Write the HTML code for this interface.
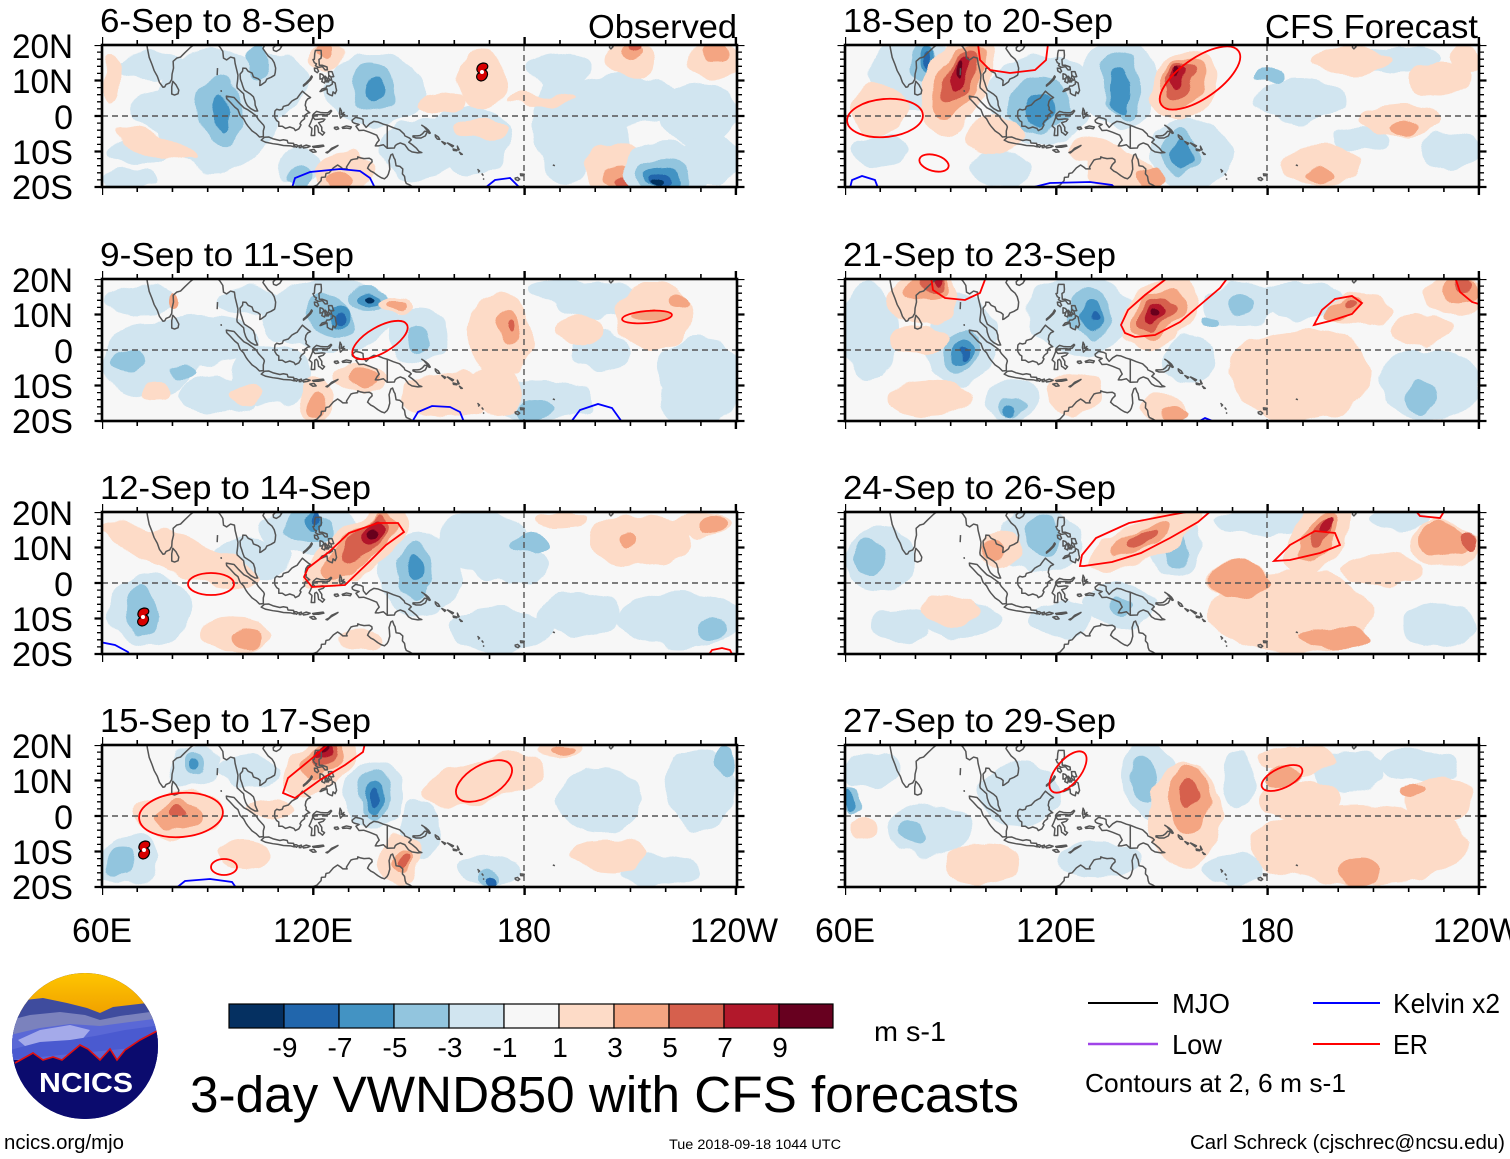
<!DOCTYPE html>
<html><head><meta charset="utf-8">
<style>
html,body{margin:0;padding:0;background:#fff;}
svg{display:block;font-family:"Liberation Sans",Arial,sans-serif;}
.b1{fill:#d1e5f0}.b2{fill:#92c5de}.b3{fill:#4393c3}.b4{fill:#2166ac}.b5{fill:#053061}
.r1{fill:#fddbc7}.r2{fill:#f4a582}.r3{fill:#d6604d}.r4{fill:#b2182b}.r5{fill:#67001f}
.er{fill:none;stroke:#f00;stroke-width:1.8}
.kv{fill:none;stroke:#00f;stroke-width:1.8}
.frame{fill:none;stroke:#000;stroke-width:2.6}
.eq{stroke:#555;stroke-width:1.4;stroke-dasharray:6 4}
.tk{stroke:#000;fill:none}
</style></head>
<body>
<svg width="1510" height="1159" viewBox="0 0 1510 1159" xmlns="http://www.w3.org/2000/svg">
<defs>
<filter id="wob" x="-10%" y="-10%" width="120%" height="120%">
<feTurbulence type="fractalNoise" baseFrequency="0.035" numOctaves="2" seed="4" result="n"/>
<feDisplacementMap in="SourceGraphic" in2="n" scale="16" xChannelSelector="R" yChannelSelector="G"/>
</filter>
<clipPath id="c1"><rect x="102" y="45" width="635" height="142"/></clipPath>
<clipPath id="c2"><rect x="845" y="45" width="634" height="142"/></clipPath>
<clipPath id="c3"><rect x="102" y="279" width="635" height="142"/></clipPath>
<clipPath id="c4"><rect x="845" y="279" width="634" height="142"/></clipPath>
<clipPath id="c5"><rect x="102" y="512" width="635" height="142"/></clipPath>
<clipPath id="c6"><rect x="845" y="512" width="634" height="142"/></clipPath>
<clipPath id="c7"><rect x="102" y="745" width="635" height="142"/></clipPath>
<clipPath id="c8"><rect x="845" y="745" width="634" height="142"/></clipPath>
<clipPath id="logoc"><circle cx="85" cy="1046" r="73"/></clipPath>
<linearGradient id="sun" x1="0" y1="0" x2="0" y2="1">
<stop offset="0" stop-color="#ffc800"/><stop offset="1" stop-color="#f0a000"/></linearGradient>
<g id="coast" fill="none" stroke="#555" stroke-width="1.5" stroke-linejoin="round">
<path vector-effect="non-scaling-stroke" d="M72.6,21 L72.9,19 73.4,16.5 74.2,14.5 74.8,12.8 75.7,11.2 76.3,9.5 77.3,8.1 77.8,8.2 78.2,8.9 79.2,9.3 79.8,10.3 79.9,11.8 80.3,13.5 80.2,15.4 81.2,16.3 82.3,16.6 83.5,17.8 85.2,19.4 86.9,20.7 87,21.5"/>
<path vector-effect="non-scaling-stroke" d="M79.8,6.2 L79.8,8.2 80.1,9.8 81,8.8 81.8,7.3 81.6,6.3 80.6,5.9 Z"/>
<path vector-effect="non-scaling-stroke" d="M91.8,22.5 L92.3,20.7 93.5,19.4 94.3,18.2 94.5,16.3 95.4,15.8 96.5,16.6 97.6,16.3 97.8,14.8 98.2,13.2 98.6,11.5 98.5,10 98.3,8.5 98.4,7.9 99.5,6.9 100.2,6.3 100.4,5 100.8,3.8 101.3,2.9 102.2,2.1 103.5,1.4 104.2,1.4 103.5,3 103.4,4.2 103,5.4 102.1,6.2 101,6.9 100.4,7.3 100,8.3 99.7,9.3 99.3,10.4 99.2,11.8 99.9,12.6 100,13.5 100.9,13.4 101.5,12.6 102.6,12.1 103,11 104.3,10.5 104.9,10 104.8,8.6 105.1,8.7 106.4,9.6 106.8,10.4 108,10.9 109,11.5 109.2,12.3 109.3,13.5 108.9,15 108.3,16 107.2,16.9 106.4,18 105.7,19 106.2,20 106.8,20.7 107.9,21.5 109.5,21.6 110.2,20.5 110.5,21.2 111.7,21.6 113.5,22.3"/>
<path vector-effect="non-scaling-stroke" d="M108.7,18.5 L109.5,18.2 110.5,18.8 111,19.6 110.2,20.1 109.2,19.8 108.6,19.2 Z"/>
<path vector-effect="non-scaling-stroke" d="M92.8,13.5 L92.7,11.5 M93.8,7.3 L93.9,6.8"/>
<path vector-effect="non-scaling-stroke" d="M95.3,5.6 L97.5,5.2 98.6,4 100.3,2.3 101.5,1.7 102.5,1 103.8,0 104.4,-1 105.9,-2.6 106.1,-3.1 105.8,-4.2 105.8,-5.8 104.7,-5.9 103.8,-5 102.6,-4.2 101.4,-2.8 100.9,-2.1 100.2,-0.8 99.2,0.2 98.6,1.8 97.7,2.5 96.4,3.9 95.4,4.9 Z"/>
<path vector-effect="non-scaling-stroke" d="M105.2,-6.8 L106.1,-6 107.3,-5.9 108.5,-6.4 110.5,-6.9 111.5,-6.7 112.6,-6.9 112.8,-7.6 114.4,-7.7 114.6,-8.7 113.5,-8.4 111.5,-8.3 110,-8 108.5,-7.8 106.5,-7.4 105.4,-6.9 Z"/>
<path vector-effect="non-scaling-stroke" d="M114.6,-8.1 L115.2,-8.1 115.7,-8.4 115.2,-8.8 114.5,-8.4 Z M116,-8.4 L116.6,-8.2 116.5,-8.9 116,-8.9Z M116.9,-8.6 L118,-8.2 119.1,-8.5 118.5,-8.8 117.2,-9Z M119.8,-8.6 L121,-8.4 122.8,-8.2 123,-8.5 121.5,-8.8 120,-8.8Z M123.6,-10.3 L124.4,-9.9 125.2,-9.1 127,-8.3 126.3,-8.8 125.1,-9.5 124,-10.4Z M119,-9.6 L120.2,-9.4 120.8,-10.1 119.9,-10.2Z"/>
<path vector-effect="non-scaling-stroke" d="M109.6,1.9 L110.4,1.7 111.2,1.9 111.5,2.7 112.9,3.1 113.9,4.2 114.6,4.6 115.4,5 116.2,6.1 116.9,7 117.6,6.4 118.6,5.6 119.2,5.2 118.4,4.8 117.9,4.1 117.7,3 118,2.3 117.9,1.8 119,0.9 118.4,0.8 117.5,0.1 117.5,-0.8 116.6,-1.5 116.2,-2.2 116.5,-2.5 115.9,-3.6 114.9,-4.1 114.5,-3.5 113.3,-3.1 112.1,-3.5 111.2,-2.9 110.2,-2.9 110.2,-1.7 109.6,-1.3 109.1,-0.5 109,0.4 109.1,1.4 Z"/>
<path vector-effect="non-scaling-stroke" d="M119.4,-5.5 L119.5,-4.6 119.6,-3.5 118.8,-2.8 119.2,-2 119.8,-0.5 119.8,0.2 120.1,0.6 120.9,1.3 122,1 123,0.9 124.1,0.9 125,1.6 125.2,1.4 124.5,0.5 123.6,0.3 122.6,0.4 121.1,0.4 120.2,0.2 120,-0.5 120.5,-1 121.5,-0.9 122.5,-0.8 123.3,-0.9 122.8,-1.5 121.5,-1.9 122.4,-3.2 122.4,-4.2 123.2,-4.7 122.6,-5.4 121.9,-4.8 121.5,-4.6 121.3,-3.2 120.9,-2.6 120.4,-2.9 120.4,-5.5 Z"/>
<path vector-effect="non-scaling-stroke" d="M120.6,18.5 L121.3,18.5 122.2,18.5 122.3,17.1 122.2,16.3 121.6,15.9 121.7,14.3 122.5,14.3 123.9,13.8 124,13 123.3,13 122.6,13.9 121.4,13.7 120.6,14.2 120.9,14.7 120.3,15 119.9,15.9 120.3,16 120.4,17.6 Z M120.3,13.5 L121.1,13.4 121.5,12.6 121.1,12.2 120.4,12.7Z M124.3,12.5 L125.3,12.5 125.8,11.1 125,11 124.4,11.5Z M124.4,11.4 L125,11 125.2,10.1 124.8,10.1 124.3,10.7Z M121.9,11.9 L122.6,11.7 123.1,11.1 122.5,10.5 121.9,10.4 121.9,11.1Z M122.8,10.9 L123.5,10.6 123.2,9.3 122.4,9.7Z M123.4,11.2 L124,10.5 123.7,9.6 123.3,10.3Z M123.8,10 L124.5,10.1 124.3,9.6 123.8,9.6Z M117.2,8.4 L118.3,9.3 119.3,10.3 119.7,11 119.5,11.3 119,10.4 118,9.4 117.2,8.7Z"/>
<path vector-effect="non-scaling-stroke" d="M121.9,6.9 L122.5,7.6 123.6,7.9 123.8,8.4 124.6,8.5 125.4,9 125.4,9.8 126.2,9.3 126.4,8.1 126.6,7.2 126.2,6.3 125.6,6.8 125.4,5.7 124.6,6 124,6.4 123.9,7.6 123.3,7.4 122.1,6.9 Z"/>
<path vector-effect="non-scaling-stroke" d="M127.6,2.2 L128,1.4 127.9,0.5 128.7,1 128.2,0.3 128.9,0.4 128.1,-0.2 127.7,-0.6 127.4,0.7 Z M128.2,-3.2 L129.4,-2.8 130.8,-3.1 130.5,-3.6 129.5,-3.4 128.4,-3.5Z M126,-3.2 L126.9,-3.1 127.2,-3.6 126.5,-3.8 126,-3.5Z"/>
<path vector-effect="non-scaling-stroke" d="M131,-1.2 L132,-0.4 133.5,-0.7 134.1,-1 134.2,-2.2 135,-3.2 136,-2.2 137.2,-1.5 138.4,-1.7 139.9,-2.3 141,-2.6 142.7,-3.3 144.5,-3.9 145.8,-5.1 146,-5.6 147.3,-6.2 147.8,-6.7 147.1,-7.4 148.1,-8.1 149.3,-9.1 150,-10 150.8,-10.3 149.7,-10.4 148,-10.1 147,-9.5 146,-8.1 144.7,-7.6 143.9,-7.9 143.3,-8.3 143,-9 141,-9.1 139.9,-8.1 138.6,-8.4 137.6,-8.4 138.1,-7.5 138.7,-6.8 138,-5.4 136,-4.6 134.3,-4 133,-4.1 132.1,-2.9 133,-2.4 131.6,-2 131.1,-1.7 Z M141,-2.6 L141,-9.1"/>
<path vector-effect="non-scaling-stroke" d="M148.3,-5.6 L149.5,-5.6 150.3,-5.5 151,-5 151.6,-4.3 152.4,-4.4 151.8,-5.6 150.6,-6.2 149.2,-6.2 148.3,-5.9 Z M150.8,-2.6 L151.9,-3.3 152.7,-4 153.2,-4.8 152.9,-4.9 152.2,-3.9 151.4,-3Z M154.6,-5.3 L155.5,-5.9 155.9,-6.6 155.2,-6.5 154.7,-5.9Z M156.5,-7.2 L157.6,-7.7 157.3,-8Z M158.1,-7.6 L159.8,-8.4 159.5,-8.7Z M159.7,-9.3 L160.6,-9.5 160.7,-9.8 159.8,-9.7Z M160.9,-8.5 L161.4,-9.5 161.1,-9.6Z M161.5,-10.2 L162.3,-10.8 161.9,-10.8Z"/>
<path vector-effect="non-scaling-stroke" d="M166.6,-15 L167.2,-15.5 166.8,-15.9 M167.8,-16.2 L168.3,-16.8 M168.2,-17.6 L168.5,-17.9 M177.3,-17.5 L178,-17.3 178.6,-17.8 178.1,-18.2 177.4,-17.9Z M178.8,-16.3 L179.9,-16.4 179.6,-16.8 178.9,-16.8Z M188,-13.8 L188.6,-14 M204.1,20.2 L205,19.7 205.1,19.5 204.5,18.9 204.1,19.3Z"/>
<path vector-effect="non-scaling-stroke" d="M113.4,-22 L114.2,-21.8 114.6,-21.6 116.7,-20.6 118.8,-20.3 121,-19.5 122.2,-18.2 122.3,-17.3 123.4,-17.2 123.6,-16.2 124.5,-16 125.7,-14.6 126.9,-13.8 127.8,-14.4 128.4,-14.9 129.6,-14.9 129.4,-14.4 130.3,-13 130.7,-12.4 131.3,-12.2 132.6,-12 132.6,-11.5 133.4,-11.8 134.4,-12 135.9,-11.9 136.6,-12.3 136.7,-12.9 136.3,-13.3 135.9,-13.7 135.4,-14.7 136.3,-15.5 137.1,-15.9 138.3,-16.8 139.3,-17.4 140.2,-17.7 140.9,-17.1 141.3,-16.4 141.7,-15 141.6,-13.4 141.5,-12.6 142,-11 142.5,-10.7 142.9,-11.8 143.2,-12.3 143.5,-14 144.6,-14.2 145.4,-14.9 145.3,-16.3 145.9,-17 146.1,-18.3 146.4,-19 147.5,-19.5 148.8,-20.4 149.4,-21.1 150,-22.1"/>
</g>
<g id="storm">
<path d="M1,-9 C7,-9 7,-4 3,-2 C8,0 5,9 -1,9 C-7,8 -6,2 -3,1 C-7,-2 -5,-8 1,-9Z" fill="#d80000" stroke="#000" stroke-width="1.2"/>
<circle r="2" fill="#fff"/>
</g>
</defs>

<rect width="1510" height="1159" fill="#fff"/>

<!-- ============ PANEL 1 ============ -->
<g clip-path="url(#c1)">
<rect x="102" y="45" width="635" height="142" fill="#f7f7f7"/>
<g filter="url(#wob)">
<ellipse class="b1" cx="215" cy="110" rx="62" ry="62"/>
<ellipse class="b1" cx="150" cy="65" rx="35" ry="14"/>
<ellipse class="b1" cx="270" cy="85" rx="38" ry="32"/>
<ellipse class="b1" cx="140" cy="150" rx="30" ry="12"/>
<ellipse class="b1" cx="160" cy="110" rx="28" ry="22"/>
<ellipse class="b1" cx="375" cy="90" rx="48" ry="36"/>
<ellipse class="b1" cx="420" cy="150" rx="40" ry="30"/>
<ellipse class="b1" cx="470" cy="140" rx="40" ry="35"/>
<ellipse class="b1" cx="565" cy="125" rx="32" ry="55"/>
<ellipse class="b1" cx="620" cy="100" rx="60" ry="25"/>
<ellipse class="b1" cx="700" cy="115" rx="40" ry="32"/>
<ellipse class="b1" cx="710" cy="160" rx="30" ry="25"/>
<ellipse class="b1" cx="600" cy="140" rx="30" ry="30"/>
<ellipse class="b1" cx="560" cy="70" rx="30" ry="18"/>
<ellipse class="b1" cx="300" cy="165" rx="22" ry="20"/>
<ellipse class="b1" cx="130" cy="178" rx="30" ry="10"/>
<ellipse class="b2" cx="220" cy="112" rx="22" ry="36" transform="rotate(-10 220 112)"/>
<ellipse class="b2" cx="258" cy="62" rx="12" ry="16"/>
<ellipse class="b2" cx="300" cy="177" rx="12" ry="12"/>
<ellipse class="b3" cx="222" cy="113" rx="8" ry="20"/>
<ellipse class="b2" cx="373" cy="88" rx="22" ry="24"/>
<ellipse class="b3" cx="375" cy="92" rx="10" ry="13"/>
<ellipse class="r1" cx="440" cy="102" rx="25" ry="12"/>
<ellipse class="r1" cx="482" cy="80" rx="25" ry="28"/>
<ellipse class="r1" cx="540" cy="100" rx="35" ry="6"/>
<ellipse class="r1" cx="480" cy="130" rx="25" ry="10"/>
<ellipse class="r1" cx="615" cy="168" rx="32" ry="26"/>
<ellipse class="r1" cx="345" cy="172" rx="30" ry="20"/>
<ellipse class="r1" cx="155" cy="145" rx="45" ry="10" transform="rotate(20 155 145)"/>
<ellipse class="r1" cx="112" cy="80" rx="10" ry="25"/>
<ellipse class="r1" cx="325" cy="58" rx="18" ry="13"/>
<ellipse class="r1" cx="630" cy="60" rx="25" ry="18"/>
<ellipse class="r1" cx="715" cy="60" rx="28" ry="18"/>
<ellipse class="r2" cx="620" cy="178" rx="18" ry="12"/>
<ellipse class="r2" cx="325" cy="52" rx="8" ry="8"/>
<ellipse class="r2" cx="340" cy="180" rx="12" ry="8"/>
<ellipse class="r2" cx="632" cy="52" rx="10" ry="8"/>
<ellipse class="r2" cx="715" cy="52" rx="14" ry="8"/>
<ellipse class="r3" cx="622" cy="183" rx="8" ry="6"/>
<ellipse class="r3" cx="636" cy="47" rx="5" ry="5"/>
<ellipse class="b1" cx="665" cy="172" rx="42" ry="30"/>
<ellipse class="b2" cx="663" cy="176" rx="26" ry="18"/>
<ellipse class="b3" cx="662" cy="179" rx="17" ry="12"/>
<ellipse class="b4" cx="660" cy="182" rx="10" ry="8"/>
<ellipse class="b5" cx="657" cy="185" rx="5" ry="4"/>
</g>
<use href="#coast" transform="translate(102,45) scale(3.522,-3.55) translate(-60,-20)"/>
<line class="eq" x1="102" y1="116" x2="737" y2="116"/>
<line class="eq" x1="524" y1="45" x2="524" y2="187"/>
<path class="kv" d="M292,188 L295,178 310,172 340,169 360,171 370,178 375,188"/>
<path class="kv" d="M485,188 L495,180 510,178 520,188"/>
<use href="#storm" x="482" y="72"/>
</g>

<!-- ============ PANEL 2 ============ -->
<g clip-path="url(#c2)">
<rect x="845" y="45" width="634" height="142" fill="#f7f7f7"/>
<g filter="url(#wob)">
<ellipse class="b1" cx="915" cy="75" rx="45" ry="35"/>
<ellipse class="b1" cx="1040" cy="100" rx="55" ry="45"/>
<ellipse class="b1" cx="1120" cy="85" rx="40" ry="45" transform="rotate(-15 1120 85)"/>
<ellipse class="b1" cx="1190" cy="155" rx="42" ry="36"/>
<ellipse class="b1" cx="1000" cy="170" rx="30" ry="18"/>
<ellipse class="b1" cx="1300" cy="100" rx="45" ry="22"/>
<ellipse class="b1" cx="1400" cy="60" rx="40" ry="15"/>
<ellipse class="b1" cx="1450" cy="150" rx="30" ry="20"/>
<ellipse class="b1" cx="880" cy="150" rx="30" ry="15"/>
<ellipse class="b1" cx="1360" cy="140" rx="30" ry="12"/>
<ellipse class="b2" cx="925" cy="65" rx="15" ry="18"/>
<ellipse class="b2" cx="1040" cy="105" rx="30" ry="28"/>
<ellipse class="b2" cx="1122" cy="85" rx="18" ry="35" transform="rotate(-10 1122 85)"/>
<ellipse class="b2" cx="1180" cy="153" rx="18" ry="22"/>
<ellipse class="b2" cx="1270" cy="75" rx="15" ry="8"/>
<ellipse class="b3" cx="930" cy="62" rx="8" ry="12"/>
<ellipse class="b3" cx="1040" cy="110" rx="15" ry="18"/>
<ellipse class="b3" cx="1120" cy="90" rx="10" ry="22"/>
<ellipse class="b3" cx="1182" cy="155" rx="10" ry="13"/>
<ellipse class="b4" cx="930" cy="62" rx="4" ry="7"/>
<ellipse class="r1" cx="880" cy="110" rx="30" ry="25"/>
<ellipse class="r1" cx="995" cy="135" rx="30" ry="20"/>
<ellipse class="r1" cx="1120" cy="170" rx="38" ry="22" transform="rotate(30 1120 170)"/>
<ellipse class="r1" cx="1090" cy="150" rx="25" ry="12"/>
<ellipse class="r1" cx="1320" cy="165" rx="40" ry="20"/>
<ellipse class="r1" cx="1400" cy="120" rx="40" ry="15"/>
<ellipse class="r1" cx="1440" cy="80" rx="30" ry="15"/>
<ellipse class="r1" cx="1350" cy="60" rx="40" ry="12"/>
<ellipse class="r1" cx="1465" cy="60" rx="15" ry="15"/>
<ellipse class="r2" cx="1150" cy="178" rx="12" ry="10"/>
<ellipse class="r2" cx="1405" cy="125" rx="15" ry="8"/>
<ellipse class="r2" cx="1320" cy="175" rx="12" ry="7"/>
<ellipse class="r1" cx="955" cy="85" rx="30" ry="52" transform="rotate(30 955 85)"/>
<ellipse class="r2" cx="957" cy="82" rx="20" ry="40" transform="rotate(30 957 82)"/>
<ellipse class="r3" cx="959" cy="78" rx="13" ry="29" transform="rotate(30 959 78)"/>
<ellipse class="r4" cx="960" cy="74" rx="8" ry="19" transform="rotate(30 960 74)"/>
<ellipse class="r5" cx="961" cy="70" rx="4" ry="8"/>
<ellipse class="r1" cx="1185" cy="85" rx="30" ry="38" transform="rotate(35 1185 85)"/>
<ellipse class="r2" cx="1183" cy="83" rx="20" ry="28" transform="rotate(35 1183 83)"/>
<ellipse class="r3" cx="1181" cy="80" rx="13" ry="19" transform="rotate(35 1181 80)"/>
<ellipse class="r4" cx="1180" cy="77" rx="7" ry="12" transform="rotate(35 1180 77)"/>
<ellipse class="r5" cx="1179" cy="74" rx="3" ry="5"/>
</g>
<use href="#coast" transform="translate(845,45) scale(3.522,-3.55) translate(-60,-20)"/>
<line class="eq" x1="845" y1="116" x2="1479" y2="116"/>
<line class="eq" x1="1267" y1="45" x2="1267" y2="187"/>
<ellipse class="er" cx="885" cy="118" rx="38" ry="19" transform="rotate(-5 885 118)"/>
<ellipse class="er" cx="1200" cy="78" rx="47" ry="20" transform="rotate(-35 1200 78)"/>
<path class="er" d="M978,44 L980,60 990,70 1010,73 1035,70 1046,60 1048,44"/>
<ellipse class="er" cx="934" cy="163" rx="15" ry="8" transform="rotate(15 934 163)"/>
<path class="kv" d="M850,188 L852,180 862,176 875,180 878,188"/>
<path class="kv" d="M1030,188 L1050,183 1090,182 1112,185 1115,188"/>
</g>

<!-- ============ PANEL 3 ============ -->
<g clip-path="url(#c3)">
<rect x="102" y="279" width="635" height="142" fill="#f7f7f7"/>
<g filter="url(#wob)">
<ellipse class="b1" cx="330" cy="315" rx="68" ry="36"/>
<ellipse class="b1" cx="150" cy="360" rx="48" ry="36"/>
<ellipse class="b1" cx="200" cy="340" rx="60" ry="25"/>
<ellipse class="b1" cx="270" cy="375" rx="40" ry="30"/>
<ellipse class="b1" cx="140" cy="300" rx="35" ry="15"/>
<ellipse class="b1" cx="220" cy="395" rx="40" ry="20"/>
<ellipse class="b1" cx="420" cy="335" rx="30" ry="28"/>
<ellipse class="b1" cx="540" cy="400" rx="52" ry="22"/>
<ellipse class="b1" cx="700" cy="370" rx="42" ry="32"/>
<ellipse class="b1" cx="700" cy="400" rx="40" ry="25"/>
<ellipse class="b1" cx="600" cy="350" rx="28" ry="22"/>
<ellipse class="b1" cx="600" cy="300" rx="45" ry="18"/>
<ellipse class="b1" cx="250" cy="300" rx="30" ry="15"/>
<ellipse class="b1" cx="560" cy="290" rx="30" ry="12"/>
<ellipse class="b2" cx="368" cy="298" rx="18" ry="13"/>
<ellipse class="b2" cx="330" cy="315" rx="26" ry="18" transform="rotate(30 330 315)"/>
<ellipse class="b2" cx="128" cy="358" rx="17" ry="12"/>
<ellipse class="b2" cx="183" cy="373" rx="14" ry="6"/>
<ellipse class="b2" cx="535" cy="410" rx="22" ry="10"/>
<ellipse class="b2" cx="420" cy="340" rx="10" ry="14"/>
<ellipse class="b3" cx="369" cy="299" rx="9" ry="8"/>
<ellipse class="b3" cx="340" cy="316" rx="12" ry="10"/>
<ellipse class="b4" cx="341" cy="318" rx="6" ry="5"/>
<ellipse class="b5" cx="370" cy="298" rx="4" ry="4"/>
<ellipse class="r1" cx="500" cy="335" rx="33" ry="42"/>
<ellipse class="r1" cx="495" cy="390" rx="25" ry="25"/>
<ellipse class="r1" cx="655" cy="315" rx="38" ry="34"/>
<ellipse class="r1" cx="155" cy="392" rx="15" ry="10"/>
<ellipse class="r1" cx="316" cy="400" rx="18" ry="22"/>
<ellipse class="r1" cx="445" cy="395" rx="45" ry="24"/>
<ellipse class="r1" cx="395" cy="305" rx="20" ry="10"/>
<ellipse class="r1" cx="245" cy="395" rx="15" ry="10"/>
<ellipse class="r1" cx="580" cy="330" rx="25" ry="15"/>
<ellipse class="r1" cx="360" cy="378" rx="25" ry="15"/>
<ellipse class="r2" cx="508" cy="328" rx="12" ry="18"/>
<ellipse class="r2" cx="650" cy="316" rx="20" ry="7"/>
<ellipse class="r2" cx="678" cy="300" rx="10" ry="7"/>
<ellipse class="r2" cx="396" cy="305" rx="13" ry="6"/>
<ellipse class="r2" cx="363" cy="378" rx="15" ry="10"/>
<ellipse class="r2" cx="316" cy="405" rx="10" ry="12"/>
<ellipse class="r2" cx="173" cy="302" rx="5" ry="8"/>
<ellipse class="r3" cx="510" cy="326" rx="4" ry="6"/>
</g>
<use href="#coast" transform="translate(102,279) scale(3.522,-3.55) translate(-60,-20)"/>
<line class="eq" x1="102" y1="350" x2="737" y2="350"/>
<line class="eq" x1="524" y1="279" x2="524" y2="421"/>
<ellipse class="er" cx="380" cy="340" rx="31" ry="13" transform="rotate(-30 380 340)"/>
<ellipse class="er" cx="647" cy="317" rx="25" ry="6" transform="rotate(-5 647 317)"/>
<path class="kv" d="M412,422 L418,412 432,406 450,407 460,412 464,422"/>
<path class="kv" d="M571,422 L580,410 598,404 612,408 622,422"/>
</g>

<!-- ============ PANEL 4 ============ -->
<g clip-path="url(#c4)">
<rect x="845" y="279" width="634" height="142" fill="#f7f7f7"/>
<g filter="url(#wob)">
<ellipse class="b1" cx="870" cy="330" rx="30" ry="48"/>
<ellipse class="b1" cx="960" cy="340" rx="36" ry="46"/>
<ellipse class="b1" cx="1080" cy="315" rx="52" ry="40"/>
<ellipse class="b1" cx="1240" cy="305" rx="36" ry="22"/>
<ellipse class="b1" cx="1430" cy="385" rx="52" ry="36"/>
<ellipse class="b1" cx="1300" cy="300" rx="45" ry="18"/>
<ellipse class="b1" cx="1010" cy="400" rx="28" ry="20"/>
<ellipse class="b1" cx="1190" cy="360" rx="25" ry="25"/>
<ellipse class="b2" cx="961" cy="350" rx="16" ry="24" transform="rotate(20 961 350)"/>
<ellipse class="b2" cx="1090" cy="312" rx="20" ry="26"/>
<ellipse class="b2" cx="1240" cy="305" rx="13" ry="10"/>
<ellipse class="b2" cx="1210" cy="320" rx="8" ry="6"/>
<ellipse class="b2" cx="1420" cy="398" rx="14" ry="16"/>
<ellipse class="b2" cx="1012" cy="406" rx="14" ry="10"/>
<ellipse class="b3" cx="962" cy="352" rx="9" ry="14" transform="rotate(20 962 352)"/>
<ellipse class="b3" cx="1092" cy="315" rx="10" ry="16"/>
<ellipse class="b3" cx="1012" cy="410" rx="7" ry="6"/>
<ellipse class="b4" cx="962" cy="354" rx="4" ry="7"/>
<ellipse class="b4" cx="1094" cy="320" rx="4" ry="5"/>
<ellipse class="r1" cx="1300" cy="375" rx="72" ry="46"/>
<ellipse class="r1" cx="1360" cy="310" rx="32" ry="17"/>
<ellipse class="r1" cx="1455" cy="295" rx="30" ry="20"/>
<ellipse class="r1" cx="930" cy="398" rx="42" ry="18"/>
<ellipse class="r1" cx="1075" cy="395" rx="28" ry="22"/>
<ellipse class="r1" cx="1165" cy="408" rx="25" ry="12"/>
<ellipse class="r1" cx="1420" cy="330" rx="30" ry="15"/>
<ellipse class="r1" cx="925" cy="300" rx="35" ry="26"/>
<ellipse class="r1" cx="920" cy="340" rx="30" ry="12"/>
<ellipse class="r2" cx="928" cy="288" rx="22" ry="12"/>
<ellipse class="r3" cx="932" cy="284" rx="14" ry="8"/>
<ellipse class="r4" cx="937" cy="281" rx="7" ry="5"/>
<ellipse class="r2" cx="1345" cy="309" rx="22" ry="10" transform="rotate(-20 1345 309)"/>
<ellipse class="r2" cx="1460" cy="290" rx="20" ry="12"/>
<ellipse class="r2" cx="1175" cy="412" rx="16" ry="8"/>
<ellipse class="r3" cx="1352" cy="305" rx="8" ry="5"/>
<ellipse class="r3" cx="1465" cy="286" rx="10" ry="6"/>
<ellipse class="r1" cx="1160" cy="312" rx="44" ry="30" transform="rotate(-37 1160 312)"/>
<ellipse class="r2" cx="1158" cy="313" rx="31" ry="20" transform="rotate(-37 1158 313)"/>
<ellipse class="r3" cx="1157" cy="313" rx="21" ry="13" transform="rotate(-37 1157 313)"/>
<ellipse class="r4" cx="1157" cy="313" rx="12" ry="8" transform="rotate(-37 1157 313)"/>
<ellipse class="r5" cx="1157" cy="313" rx="5" ry="4"/>
</g>
<use href="#coast" transform="translate(845,279) scale(3.522,-3.55) translate(-60,-20)"/>
<line class="eq" x1="845" y1="350" x2="1479" y2="350"/>
<line class="eq" x1="1267" y1="279" x2="1267" y2="421"/>
<path class="er" d="M931,277 L933,290 945,298 965,300 980,293 986,277"/>
<path class="er" d="M1121,325 L1125,333 1135,337 1155,335 1180,322 1200,305 1220,288 1229,276 L1170,276 1145,295 1128,310 Z"/>
<path class="er" d="M1314,325 L1330,321 1352,314 1362,303 1352,296 1335,299 1322,310 Z"/>
<path class="er" d="M1455,277 L1460,292 1472,302 1482,305"/>
<path class="kv" d="M1198,422 L1205,418 1215,422"/>
</g>

<!-- ============ PANEL 5 ============ -->
<g clip-path="url(#c5)">
<rect x="102" y="512" width="635" height="142" fill="#f7f7f7"/>
<g filter="url(#wob)">
<ellipse class="b1" cx="310" cy="530" rx="48" ry="26"/>
<ellipse class="b1" cx="420" cy="575" rx="42" ry="42"/>
<ellipse class="b1" cx="480" cy="540" rx="45" ry="30"/>
<ellipse class="b1" cx="150" cy="610" rx="42" ry="36"/>
<ellipse class="b1" cx="510" cy="565" rx="40" ry="18"/>
<ellipse class="b1" cx="580" cy="615" rx="40" ry="22"/>
<ellipse class="b1" cx="680" cy="620" rx="62" ry="28"/>
<ellipse class="b1" cx="250" cy="560" rx="40" ry="22"/>
<ellipse class="b1" cx="500" cy="630" rx="52" ry="22"/>
<ellipse class="b2" cx="310" cy="527" rx="25" ry="15"/>
<ellipse class="b2" cx="415" cy="572" rx="18" ry="28"/>
<ellipse class="b2" cx="142" cy="612" rx="16" ry="25"/>
<ellipse class="b2" cx="530" cy="545" rx="20" ry="10"/>
<ellipse class="b2" cx="713" cy="630" rx="14" ry="10"/>
<ellipse class="b3" cx="315" cy="520" rx="10" ry="8"/>
<ellipse class="b3" cx="414" cy="570" rx="9" ry="14"/>
<ellipse class="b4" cx="318" cy="517" rx="5" ry="5"/>
<ellipse class="r1" cx="180" cy="555" rx="82" ry="18" transform="rotate(20 180 555)"/>
<ellipse class="r1" cx="235" cy="635" rx="36" ry="17"/>
<ellipse class="r1" cx="640" cy="540" rx="50" ry="26"/>
<ellipse class="r1" cx="700" cy="525" rx="30" ry="12"/>
<ellipse class="r1" cx="360" cy="640" rx="20" ry="12"/>
<ellipse class="r1" cx="560" cy="520" rx="25" ry="8"/>
<ellipse class="r2" cx="249" cy="638" rx="15" ry="10"/>
<ellipse class="r2" cx="628" cy="540" rx="10" ry="8"/>
<ellipse class="r2" cx="713" cy="525" rx="12" ry="9"/>
<ellipse class="r1" cx="355" cy="550" rx="62" ry="26" transform="rotate(-35 355 550)"/>
<ellipse class="r2" cx="358" cy="548" rx="46" ry="18" transform="rotate(-40 358 548)"/>
<ellipse class="r3" cx="365" cy="540" rx="29" ry="13" transform="rotate(-45 365 540)"/>
<ellipse class="r4" cx="371" cy="533" rx="15" ry="10" transform="rotate(-45 371 533)"/>
<ellipse class="r5" cx="372" cy="532" rx="7" ry="6"/>
</g>
<use href="#coast" transform="translate(102,512) scale(3.522,-3.55) translate(-60,-20)"/>
<line class="eq" x1="102" y1="583" x2="737" y2="583"/>
<line class="eq" x1="524" y1="512" x2="524" y2="654"/>
<path class="er" d="M304,577 L312,587 345,585 369,562 386,545 404,532 398,523 378,523 349,533 329,552 308,568 Z"/>
<ellipse class="er" cx="211" cy="584" rx="23" ry="11"/>
<path class="er" d="M708,656 L712,650 722,648 730,650 733,656"/>
<path class="kv" d="M100,642 L115,645 128,652 130,656"/>
<use href="#storm" x="143" y="617"/>
</g>

<!-- ============ PANEL 6 ============ -->
<g clip-path="url(#c6)">
<rect x="845" y="512" width="634" height="142" fill="#f7f7f7"/>
<g filter="url(#wob)">
<ellipse class="b1" cx="880" cy="560" rx="36" ry="32"/>
<ellipse class="b1" cx="1040" cy="540" rx="42" ry="32"/>
<ellipse class="b1" cx="1175" cy="545" rx="26" ry="32"/>
<ellipse class="b1" cx="1270" cy="522" rx="55" ry="12"/>
<ellipse class="b1" cx="1400" cy="520" rx="30" ry="10"/>
<ellipse class="b1" cx="960" cy="620" rx="40" ry="20"/>
<ellipse class="b1" cx="1120" cy="605" rx="38" ry="22"/>
<ellipse class="b1" cx="1440" cy="625" rx="36" ry="22"/>
<ellipse class="b1" cx="900" cy="625" rx="30" ry="18"/>
<ellipse class="b1" cx="1060" cy="620" rx="30" ry="18"/>
<ellipse class="b2" cx="868" cy="557" rx="16" ry="17"/>
<ellipse class="b2" cx="1043" cy="535" rx="18" ry="20"/>
<ellipse class="b2" cx="1178" cy="550" rx="13" ry="18"/>
<ellipse class="b2" cx="1287" cy="605" rx="10" ry="6"/>
<ellipse class="b2" cx="1120" cy="605" rx="12" ry="8"/>
<ellipse class="r1" cx="1290" cy="612" rx="82" ry="42"/>
<ellipse class="r1" cx="1445" cy="545" rx="35" ry="25"/>
<ellipse class="r1" cx="1000" cy="550" rx="20" ry="18"/>
<ellipse class="r1" cx="950" cy="610" rx="30" ry="15"/>
<ellipse class="r1" cx="1240" cy="580" rx="32" ry="18"/>
<ellipse class="r1" cx="1380" cy="570" rx="40" ry="15"/>
<ellipse class="r1" cx="1145" cy="540" rx="62" ry="20" transform="rotate(-25 1145 540)"/>
<ellipse class="r1" cx="1318" cy="538" rx="42" ry="25" transform="rotate(-55 1318 538)"/>
<ellipse class="r2" cx="1240" cy="580" rx="30" ry="18"/>
<ellipse class="r2" cx="1140" cy="540" rx="32" ry="12" transform="rotate(-25 1140 540)"/>
<ellipse class="r2" cx="1320" cy="535" rx="27" ry="14" transform="rotate(-60 1320 535)"/>
<ellipse class="r2" cx="1445" cy="540" rx="25" ry="18"/>
<ellipse class="r2" cx="1335" cy="637" rx="35" ry="10"/>
<ellipse class="r2" cx="993" cy="550" rx="12" ry="10"/>
<ellipse class="r3" cx="1140" cy="538" rx="18" ry="8" transform="rotate(-25 1140 538)"/>
<ellipse class="r3" cx="1322" cy="532" rx="17" ry="8" transform="rotate(-60 1322 532)"/>
<ellipse class="r3" cx="1470" cy="540" rx="8" ry="10"/>
<ellipse class="r4" cx="1327" cy="525" rx="10" ry="5" transform="rotate(-60 1327 525)"/>
</g>
<use href="#coast" transform="translate(845,512) scale(3.522,-3.55) translate(-60,-20)"/>
<line class="eq" x1="845" y1="583" x2="1479" y2="583"/>
<line class="eq" x1="1267" y1="512" x2="1267" y2="654"/>
<path class="er" d="M1080,566 L1082,555 1096,538 1129,523 1170,515 1198,510 L1212,510 1198,522 1170,538 1141,553 1112,562 1084,566 Z"/>
<path class="er" d="M1274,561 L1290,545 1315,531 1335,533 1340,545 1320,553 1290,560 Z"/>
<path class="er" d="M1415,510 L1420,516 1440,518 1445,510"/>
</g>

<!-- ============ PANEL 7 ============ -->
<g clip-path="url(#c7)">
<rect x="102" y="745" width="635" height="142" fill="#f7f7f7"/>
<g filter="url(#wob)">
<ellipse class="b1" cx="195" cy="765" rx="26" ry="22"/>
<ellipse class="b1" cx="375" cy="795" rx="30" ry="34"/>
<ellipse class="b1" cx="130" cy="860" rx="32" ry="26"/>
<ellipse class="b1" cx="490" cy="870" rx="32" ry="16"/>
<ellipse class="b1" cx="600" cy="800" rx="42" ry="32"/>
<ellipse class="b1" cx="700" cy="790" rx="32" ry="42"/>
<ellipse class="b1" cx="250" cy="770" rx="30" ry="15"/>
<ellipse class="b1" cx="420" cy="830" rx="20" ry="30"/>
<ellipse class="b1" cx="660" cy="870" rx="40" ry="15"/>
<ellipse class="b2" cx="193" cy="762" rx="12" ry="14"/>
<ellipse class="b2" cx="375" cy="795" rx="16" ry="25"/>
<ellipse class="b2" cx="120" cy="862" rx="14" ry="15"/>
<ellipse class="b2" cx="490" cy="878" rx="12" ry="9"/>
<ellipse class="b2" cx="725" cy="760" rx="10" ry="14"/>
<ellipse class="b3" cx="375" cy="797" rx="10" ry="18"/>
<ellipse class="b3" cx="193" cy="763" rx="6" ry="8"/>
<ellipse class="b4" cx="375" cy="797" rx="5" ry="11"/>
<ellipse class="b4" cx="493" cy="881" rx="6" ry="6"/>
<ellipse class="r1" cx="320" cy="765" rx="42" ry="24" transform="rotate(-35 320 765)"/>
<ellipse class="r1" cx="180" cy="815" rx="44" ry="24"/>
<ellipse class="r1" cx="485" cy="780" rx="62" ry="22" transform="rotate(-15 485 780)"/>
<ellipse class="r1" cx="400" cy="860" rx="20" ry="26"/>
<ellipse class="r1" cx="610" cy="855" rx="40" ry="15"/>
<ellipse class="r1" cx="245" cy="855" rx="25" ry="15"/>
<ellipse class="r1" cx="560" cy="750" rx="20" ry="8"/>
<ellipse class="r1" cx="270" cy="810" rx="25" ry="10"/>
<ellipse class="r2" cx="322" cy="760" rx="25" ry="14" transform="rotate(-45 322 760)"/>
<ellipse class="r2" cx="178" cy="815" rx="22" ry="15"/>
<ellipse class="r2" cx="403" cy="862" rx="10" ry="10"/>
<ellipse class="r2" cx="565" cy="750" rx="10" ry="5"/>
<ellipse class="r3" cx="326" cy="755" rx="14" ry="8" transform="rotate(-50 326 755)"/>
<ellipse class="r3" cx="175" cy="812" rx="9" ry="7"/>
<ellipse class="r3" cx="405" cy="862" rx="5" ry="6"/>
<ellipse class="r4" cx="325" cy="752" rx="8" ry="6"/>
<ellipse class="r5" cx="325" cy="749" rx="4" ry="4"/>
</g>
<use href="#coast" transform="translate(102,745) scale(3.522,-3.55) translate(-60,-20)"/>
<line class="eq" x1="102" y1="816" x2="737" y2="816"/>
<line class="eq" x1="524" y1="745" x2="524" y2="887"/>
<ellipse class="er" cx="181" cy="815" rx="42" ry="22" transform="rotate(-5 181 815)"/>
<ellipse class="er" cx="224" cy="867" rx="13" ry="8"/>
<ellipse class="er" cx="484" cy="781" rx="31" ry="16" transform="rotate(-30 484 781)"/>
<path class="er" d="M283,793 L295,798 320,780 345,765 363,752 365,743 L330,743 310,760 288,778 Z"/>
<path class="kv" d="M175,889 L185,881 210,879 232,882 237,889"/>
<use href="#storm" x="144" y="850"/>
</g>

<!-- ============ PANEL 8 ============ -->
<g clip-path="url(#c8)">
<rect x="845" y="745" width="634" height="142" fill="#f7f7f7"/>
<g filter="url(#wob)">
<ellipse class="b1" cx="1150" cy="780" rx="26" ry="40"/>
<ellipse class="b1" cx="930" cy="830" rx="42" ry="26"/>
<ellipse class="b1" cx="870" cy="770" rx="30" ry="20"/>
<ellipse class="b1" cx="1020" cy="795" rx="42" ry="32"/>
<ellipse class="b1" cx="1420" cy="765" rx="40" ry="15"/>
<ellipse class="b1" cx="1100" cy="860" rx="42" ry="20"/>
<ellipse class="b1" cx="1235" cy="870" rx="32" ry="16"/>
<ellipse class="b1" cx="1238" cy="780" rx="16" ry="30"/>
<ellipse class="b1" cx="1350" cy="772" rx="36" ry="22"/>
<ellipse class="b2" cx="1145" cy="780" rx="12" ry="22"/>
<ellipse class="b2" cx="913" cy="832" rx="14" ry="10"/>
<ellipse class="b2" cx="850" cy="800" rx="10" ry="12"/>
<ellipse class="b3" cx="848" cy="800" rx="5" ry="10"/>
<ellipse class="r1" cx="1185" cy="815" rx="36" ry="52"/>
<ellipse class="r1" cx="1360" cy="845" rx="110" ry="40"/>
<ellipse class="r1" cx="1300" cy="800" rx="40" ry="20"/>
<ellipse class="r1" cx="1300" cy="760" rx="40" ry="14"/>
<ellipse class="r1" cx="1440" cy="800" rx="35" ry="25"/>
<ellipse class="r1" cx="980" cy="865" rx="36" ry="20"/>
<ellipse class="r1" cx="862" cy="828" rx="14" ry="12"/>
<ellipse class="r2" cx="1189" cy="800" rx="21" ry="34"/>
<ellipse class="r2" cx="1282" cy="778" rx="18" ry="9" transform="rotate(-20 1282 778)"/>
<ellipse class="r2" cx="1360" cy="872" rx="22" ry="14"/>
<ellipse class="r2" cx="1412" cy="791" rx="12" ry="6"/>
<ellipse class="r3" cx="1190" cy="794" rx="10" ry="14"/>
</g>
<use href="#coast" transform="translate(845,745) scale(3.522,-3.55) translate(-60,-20)"/>
<line class="eq" x1="845" y1="816" x2="1479" y2="816"/>
<line class="eq" x1="1267" y1="745" x2="1267" y2="887"/>
<ellipse class="er" cx="1068" cy="772" rx="25" ry="12" transform="rotate(-50 1068 772)"/>
<ellipse class="er" cx="1282" cy="778" rx="22" ry="10" transform="rotate(-25 1282 778)"/>
</g>

<!-- ============ FRAMES & TICKS ============ -->
<g id="frames">
<rect class="frame" x="102" y="45" width="635" height="142"/>
<rect class="frame" x="845" y="45" width="634" height="142"/>
<rect class="frame" x="102" y="279" width="635" height="142"/>
<rect class="frame" x="845" y="279" width="634" height="142"/>
<rect class="frame" x="102" y="512" width="635" height="142"/>
<rect class="frame" x="845" y="512" width="634" height="142"/>
<rect class="frame" x="102" y="745" width="635" height="142"/>
<rect class="frame" x="845" y="745" width="634" height="142"/>
</g>
<g class="tk" stroke-width="4">
<g stroke-dasharray="1.6 33.63" stroke-dashoffset="0.8">
<line x1="102" y1="42" x2="738" y2="42"/><line x1="102" y1="190" x2="738" y2="190"/>
<line x1="845" y1="42" x2="1480" y2="42"/><line x1="845" y1="190" x2="1480" y2="190"/>
<line x1="102" y1="276" x2="738" y2="276"/><line x1="102" y1="424" x2="738" y2="424"/>
<line x1="845" y1="276" x2="1480" y2="276"/><line x1="845" y1="424" x2="1480" y2="424"/>
<line x1="102" y1="509" x2="738" y2="509"/><line x1="102" y1="657" x2="738" y2="657"/>
<line x1="845" y1="509" x2="1480" y2="509"/><line x1="845" y1="657" x2="1480" y2="657"/>
<line x1="102" y1="742" x2="738" y2="742"/><line x1="102" y1="890" x2="738" y2="890"/>
<line x1="845" y1="742" x2="1480" y2="742"/><line x1="845" y1="890" x2="1480" y2="890"/>
</g>
</g>
<g class="tk" stroke-width="8">
<g stroke-dasharray="2.4 208.9" stroke-dashoffset="1.2">
<line x1="102" y1="41" x2="740" y2="41"/><line x1="102" y1="191" x2="740" y2="191"/>
<line x1="845" y1="41" x2="1482" y2="41"/><line x1="845" y1="191" x2="1482" y2="191"/>
<line x1="102" y1="275" x2="740" y2="275"/><line x1="102" y1="425" x2="740" y2="425"/>
<line x1="845" y1="275" x2="1482" y2="275"/><line x1="845" y1="425" x2="1482" y2="425"/>
<line x1="102" y1="508" x2="740" y2="508"/><line x1="102" y1="658" x2="740" y2="658"/>
<line x1="845" y1="508" x2="1482" y2="508"/><line x1="845" y1="658" x2="1482" y2="658"/>
<line x1="102" y1="741" x2="740" y2="741"/><line x1="102" y1="891" x2="740" y2="891"/>
<line x1="845" y1="741" x2="1482" y2="741"/><line x1="845" y1="891" x2="1482" y2="891"/>
</g>
</g>
<g class="tk" stroke-width="4">
<g stroke-dasharray="1.3 5.8" stroke-dashoffset="0.65">
<line x1="99" y1="45" x2="99" y2="188"/><line x1="740" y1="45" x2="740" y2="188"/>
<line x1="842" y1="45" x2="842" y2="188"/><line x1="1482" y1="45" x2="1482" y2="188"/>
<line x1="99" y1="279" x2="99" y2="422"/><line x1="740" y1="279" x2="740" y2="422"/>
<line x1="842" y1="279" x2="842" y2="422"/><line x1="1482" y1="279" x2="1482" y2="422"/>
<line x1="99" y1="512" x2="99" y2="655"/><line x1="740" y1="512" x2="740" y2="655"/>
<line x1="842" y1="512" x2="842" y2="655"/><line x1="1482" y1="512" x2="1482" y2="655"/>
<line x1="99" y1="745" x2="99" y2="888"/><line x1="740" y1="745" x2="740" y2="888"/>
<line x1="842" y1="745" x2="842" y2="888"/><line x1="1482" y1="745" x2="1482" y2="888"/>
</g>
</g>
<g class="tk" stroke-width="7">
<g stroke-dasharray="2.2 33.3" stroke-dashoffset="1.1">
<line x1="98" y1="45" x2="98" y2="189"/><line x1="741" y1="45" x2="741" y2="189"/>
<line x1="841" y1="45" x2="841" y2="189"/><line x1="1483" y1="45" x2="1483" y2="189"/>
<line x1="98" y1="279" x2="98" y2="423"/><line x1="741" y1="279" x2="741" y2="423"/>
<line x1="841" y1="279" x2="841" y2="423"/><line x1="1483" y1="279" x2="1483" y2="423"/>
<line x1="98" y1="512" x2="98" y2="656"/><line x1="741" y1="512" x2="741" y2="656"/>
<line x1="841" y1="512" x2="841" y2="656"/><line x1="1483" y1="512" x2="1483" y2="656"/>
<line x1="98" y1="745" x2="98" y2="889"/><line x1="741" y1="745" x2="741" y2="889"/>
<line x1="841" y1="745" x2="841" y2="889"/><line x1="1483" y1="745" x2="1483" y2="889"/>
</g>
</g>

<!-- ============ TITLES ============ -->
<g font-size="33" fill="#000">
<text x="100" y="32" textLength="235" lengthAdjust="spacingAndGlyphs">6-Sep to 8-Sep</text>
<text x="588" y="38" textLength="149" lengthAdjust="spacingAndGlyphs">Observed</text>
<text x="843" y="32" textLength="270" lengthAdjust="spacingAndGlyphs">18-Sep to 20-Sep</text>
<text x="1265" y="38" textLength="213" lengthAdjust="spacingAndGlyphs">CFS Forecast</text>
<text x="100" y="266" textLength="254" lengthAdjust="spacingAndGlyphs">9-Sep to 11-Sep</text>
<text x="843" y="266" textLength="273" lengthAdjust="spacingAndGlyphs">21-Sep to 23-Sep</text>
<text x="100" y="499" textLength="271" lengthAdjust="spacingAndGlyphs">12-Sep to 14-Sep</text>
<text x="843" y="499" textLength="273" lengthAdjust="spacingAndGlyphs">24-Sep to 26-Sep</text>
<text x="100" y="732" textLength="271" lengthAdjust="spacingAndGlyphs">15-Sep to 17-Sep</text>
<text x="843" y="732" textLength="273" lengthAdjust="spacingAndGlyphs">27-Sep to 29-Sep</text>
</g>

<g font-size="34" fill="#000" text-anchor="end">
<text x="73" y="58" textLength="61" lengthAdjust="spacingAndGlyphs">20N</text>
<text x="73" y="93" textLength="61" lengthAdjust="spacingAndGlyphs">10N</text>
<text x="73" y="129">0</text>
<text x="73" y="164" textLength="61" lengthAdjust="spacingAndGlyphs">10S</text>
<text x="73" y="199" textLength="61" lengthAdjust="spacingAndGlyphs">20S</text>
<text x="73" y="292" textLength="61" lengthAdjust="spacingAndGlyphs">20N</text>
<text x="73" y="327" textLength="61" lengthAdjust="spacingAndGlyphs">10N</text>
<text x="73" y="363">0</text>
<text x="73" y="398" textLength="61" lengthAdjust="spacingAndGlyphs">10S</text>
<text x="73" y="433" textLength="61" lengthAdjust="spacingAndGlyphs">20S</text>
<text x="73" y="525" textLength="61" lengthAdjust="spacingAndGlyphs">20N</text>
<text x="73" y="560" textLength="61" lengthAdjust="spacingAndGlyphs">10N</text>
<text x="73" y="596">0</text>
<text x="73" y="631" textLength="61" lengthAdjust="spacingAndGlyphs">10S</text>
<text x="73" y="666" textLength="61" lengthAdjust="spacingAndGlyphs">20S</text>
<text x="73" y="758" textLength="61" lengthAdjust="spacingAndGlyphs">20N</text>
<text x="73" y="793" textLength="61" lengthAdjust="spacingAndGlyphs">10N</text>
<text x="73" y="829">0</text>
<text x="73" y="864" textLength="61" lengthAdjust="spacingAndGlyphs">10S</text>
<text x="73" y="899" textLength="61" lengthAdjust="spacingAndGlyphs">20S</text>
</g>

<g font-size="34" fill="#000" text-anchor="middle">
<text x="102" y="942" textLength="60" lengthAdjust="spacingAndGlyphs">60E</text>
<text x="313" y="942" textLength="80" lengthAdjust="spacingAndGlyphs">120E</text>
<text x="524" y="942" textLength="54" lengthAdjust="spacingAndGlyphs">180</text>
<text x="734" y="942" textLength="88" lengthAdjust="spacingAndGlyphs">120W</text>
<text x="845" y="942" textLength="60" lengthAdjust="spacingAndGlyphs">60E</text>
<text x="1056" y="942" textLength="80" lengthAdjust="spacingAndGlyphs">120E</text>
<text x="1267" y="942" textLength="54" lengthAdjust="spacingAndGlyphs">180</text>
<text x="1477" y="942" textLength="88" lengthAdjust="spacingAndGlyphs">120W</text>
</g>

<!-- ============ LOGO ============ -->
<g clip-path="url(#logoc)">
<rect x="10" y="970" width="152" height="152" fill="#0b0b6e"/>
<rect x="10" y="970" width="152" height="45" fill="url(#sun)"/>
<path d="M10,1000 L25,1000 43,998 67,1003 87,1008 100,1013 113,1007 147,1003 153,1008 162,1015 162,1060 10,1060Z" fill="#3f4c9e"/>
<path d="M10,1020 L30,1015 60,1012 85,1015 100,1020 120,1016 150,1012 162,1014 162,1060 10,1060Z" fill="#7b82bd"/>
<path d="M10,1035 L40,1028 70,1024 100,1026 130,1022 162,1018 162,1060 10,1060Z" fill="#5a68d6"/>
<path d="M18,1040 L40,1030 70,1025 90,1030 80,1042 50,1046 25,1046Z" fill="#a4aaea"/>
<path d="M10,1050 L40,1042 70,1040 95,1036 125,1030 162,1025 162,1045 10,1060Z" fill="#4a5ad0"/>
<path d="M10,1064 L15,1063 33,1053 43,1060 53,1057 62,1060 80,1045 88,1049 100,1060 110,1049 117,1060 125,1050 140,1040 157,1031 162,1028 162,1130 10,1130Z" fill="#0b0b6e"/>
<path d="M15,1063 L33,1053 43,1060 53,1057 62,1060 80,1045 88,1049 100,1060 110,1049 117,1060 125,1050 140,1040 157,1031 162,1028" fill="none" stroke="#e01010" stroke-width="1.6"/>
<text x="86" y="1092" font-size="28" font-weight="bold" fill="#fff" text-anchor="middle" textLength="94" lengthAdjust="spacingAndGlyphs">NCICS</text>
</g>

<!-- ============ COLORBAR ============ -->
<g stroke="#000" stroke-width="1.2">
<rect x="229" y="1004" width="55" height="24" fill="#053061"/>
<rect x="284" y="1004" width="55" height="24" fill="#2166ac"/>
<rect x="339" y="1004" width="55" height="24" fill="#4393c3"/>
<rect x="394" y="1004" width="55" height="24" fill="#92c5de"/>
<rect x="449" y="1004" width="55" height="24" fill="#d1e5f0"/>
<rect x="504" y="1004" width="55" height="24" fill="#f7f7f7"/>
<rect x="559" y="1004" width="55" height="24" fill="#fddbc7"/>
<rect x="614" y="1004" width="55" height="24" fill="#f4a582"/>
<rect x="669" y="1004" width="55" height="24" fill="#d6604d"/>
<rect x="724" y="1004" width="55" height="24" fill="#b2182b"/>
<rect x="779" y="1004" width="54" height="24" fill="#67001f"/>
</g>
<g font-size="28" fill="#000" text-anchor="middle">
<text x="285" y="1057">-9</text>
<text x="340" y="1057">-7</text>
<text x="395" y="1057">-5</text>
<text x="450" y="1057">-3</text>
<text x="505" y="1057">-1</text>
<text x="560" y="1057">1</text>
<text x="615" y="1057">3</text>
<text x="670" y="1057">5</text>
<text x="725" y="1057">7</text>
<text x="780" y="1057">9</text>
</g>
<text x="874" y="1041" font-size="28" textLength="72" lengthAdjust="spacingAndGlyphs">m s-1</text>
<text x="190" y="1112" font-size="51" textLength="829" lengthAdjust="spacingAndGlyphs">3-day VWND850 with CFS forecasts</text>

<!-- ============ LEGEND ============ -->
<line x1="1088" y1="1003" x2="1158" y2="1003" stroke="#000" stroke-width="2"/>
<line x1="1313" y1="1003" x2="1380" y2="1003" stroke="#0000ff" stroke-width="2"/>
<line x1="1088" y1="1044" x2="1158" y2="1044" stroke="#a044e8" stroke-width="2.5"/>
<line x1="1313" y1="1044" x2="1380" y2="1044" stroke="#ff0000" stroke-width="2"/>
<g font-size="28" fill="#000">
<text x="1172" y="1013" textLength="58" lengthAdjust="spacingAndGlyphs">MJO</text>
<text x="1393" y="1013" textLength="107" lengthAdjust="spacingAndGlyphs">Kelvin x2</text>
<text x="1172" y="1054" textLength="50" lengthAdjust="spacingAndGlyphs">Low</text>
<text x="1393" y="1054" textLength="35" lengthAdjust="spacingAndGlyphs">ER</text>
<text x="1085" y="1092" font-size="26" textLength="261" lengthAdjust="spacingAndGlyphs">Contours at 2, 6 m s-1</text>
</g>

<!-- ============ FOOTER ============ -->
<text x="4" y="1149" font-size="20" textLength="120" lengthAdjust="spacingAndGlyphs">ncics.org/mjo</text>
<text x="669" y="1149" font-size="14" textLength="172" lengthAdjust="spacingAndGlyphs">Tue 2018-09-18 1044 UTC</text>
<text x="1190" y="1149" font-size="20" textLength="315" lengthAdjust="spacingAndGlyphs">Carl Schreck (cjschrec@ncsu.edu)</text>
</svg>
</body></html>
